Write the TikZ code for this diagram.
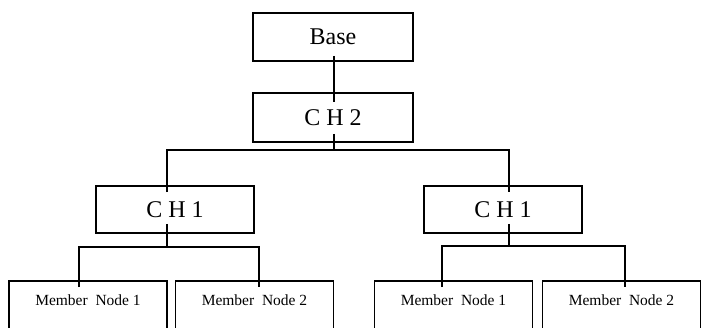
\documentclass[tikz,border=0pt]{standalone}
\usepackage{fontspec}
\setmainfont{Liberation Serif}
\usepackage{tikz}
\usetikzlibrary{positioning, calc}

\begin{document}
\begin{tikzpicture}[x=1pt, y=-1pt, line width=1.6pt,
                    box/.style={draw, rectangle, minimum width=158pt, minimum height=48pt, inner sep=0pt, font=\fontsize{24}{28}\selectfont},
                    member/.style={draw, rectangle, anchor=north, minimum width=158pt, inner xsep=0pt, inner ysep=14pt,
                                   text height=11pt, text depth=45pt, font=\fontsize{15.5}{18}\selectfont}]
                                \useasboundingbox (0, 0) rectangle (701, 327);
                                \clip (0, 0) rectangle (701, 327);

                                \node[box, minimum width=160pt] (base) at (333, 37) {Base};
                                \node[box, minimum width=160pt, minimum height=49pt] (chtop) at (333, 117.5) {C H 2};
                                \node[box, minimum height=47pt] (chl) at (175, 209.5) {C H 1};
                                \node[box, minimum height=47pt] (chr) at (503, 209.5) {C H 1};

                                \node[member] (mll) at (88, 280) {Member\ \ Node 1};
                                \node[member] (mlr) at (254.5, 280) {Member\ \ Node 2};
                                \node[member] (mrl) at (453.5, 280) {Member\ \ Node 1};
                                \node[member] (mrr) at (621.5, 280) {Member\ \ Node 2};

                                \coordinate (forktop) at (334, 150);
                                \coordinate (forkl) at (167, 247);
                                \coordinate (forkr) at (509, 246);

                                \draw
                                ([shift={(1,-6)}]base.south) -- ([shift={(1,10)}]chtop.north)
                                ([shift={(1,-9)}]chtop.south) -- (forktop)
                                ([shift={(-8,7)}]chl.north) |- (forktop) -| ([shift={(6,7)}]chr.north)
                                ([shift={(-8,-10)}]chl.south) -- (forkl)
                                ([shift={(-9,7)}]mll.north) |- (forkl) -| ([shift={(4.5,7)}]mlr.north)
                                ([shift={(6,-10)}]chr.south) -- (forkr)
                                ([shift={(-11.5,7)}]mrl.north) |- (forkr) -| ([shift={(3.5,7)}]mrr.north);
                            \end{tikzpicture}
\end{document}
